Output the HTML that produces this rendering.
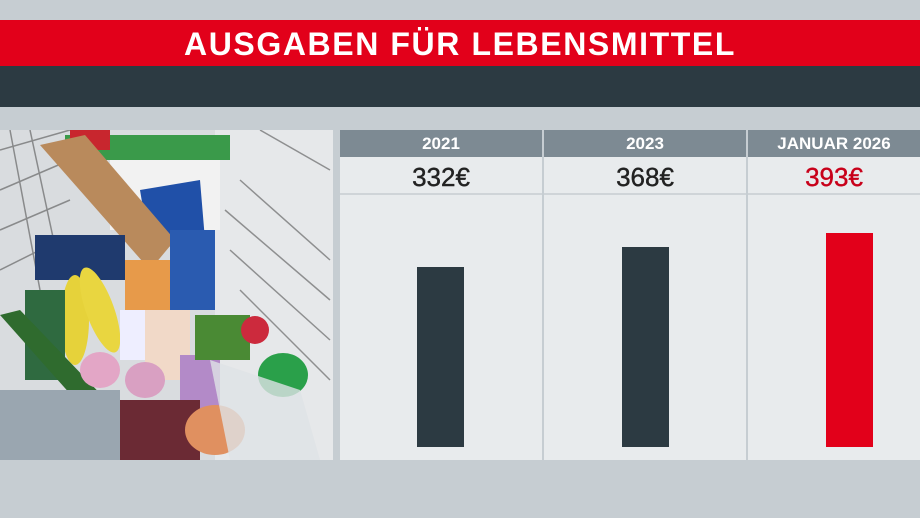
<!DOCTYPE html>
<html><head><meta charset="utf-8"><style>
*{margin:0;padding:0;box-sizing:border-box}
body{width:920px;height:518px;background:#c6cdd2;position:relative;overflow:hidden;font-family:"Liberation Sans",sans-serif}
.a{position:absolute}
.red{left:0;top:20px;width:920px;height:46px;background:#e2001a;color:#fff;font-weight:bold;font-size:32px;text-align:center;line-height:48px;letter-spacing:1.6px}
.dark{left:0;top:66px;width:920px;height:41px;background:#2c3a42}
.col{top:130px;height:330px;background:#e8ebed}
.hd{position:absolute;left:0;top:0;width:100%;height:27px;background:#7d8a93;color:#fff;font-weight:bold;font-size:17px;text-align:center;line-height:28px}
.val{position:absolute;left:0;top:28px;width:100%;height:37px;text-align:center;font-size:26px;line-height:38px;color:#222;border-bottom:2px solid #cfd4d8;-webkit-text-stroke:0.4px #222}
.bar{position:absolute;width:47px;background:#2c3a42}
</style></head><body>
<div class="a red">AUSGABEN FÜR LEBENSMITTEL</div>
<div class="a dark"></div>
<svg class="a" style="left:0;top:130px" width="333" height="330" viewBox="0 0 333 330">
<rect width="333" height="330" fill="#d9dcdf"/>
<rect x="215" y="0" width="118" height="330" fill="#e6e8ea"/>
<g stroke="#555" stroke-width="1.5" opacity="0.6">
<line x1="0" y1="20" x2="70" y2="0"/><line x1="0" y1="60" x2="70" y2="30"/><line x1="0" y1="100" x2="70" y2="70"/><line x1="0" y1="140" x2="60" y2="110"/>
<line x1="10" y1="0" x2="40" y2="160"/><line x1="30" y1="0" x2="60" y2="140"/>
<line x1="225" y1="80" x2="330" y2="170"/><line x1="230" y1="120" x2="330" y2="210"/><line x1="240" y1="160" x2="330" y2="250"/><line x1="240" y1="50" x2="330" y2="130"/>
<line x1="260" y1="0" x2="330" y2="40"/>
</g>
<rect x="65" y="5" width="165" height="25" fill="#3a9a4a"/>
<rect x="70" y="0" width="40" height="20" fill="#c8262e"/>
<rect x="110" y="30" width="110" height="70" fill="#f2f2f2"/>
<polygon points="140,60 200,50 205,110 150,120" fill="#2050a8"/>
<polygon points="40,15 85,5 175,110 150,140" fill="#b98a5c"/>
<rect x="35" y="105" width="90" height="45" fill="#1f3a6e"/>
<rect x="170" y="100" width="45" height="80" fill="#2a5bb0"/>
<rect x="125" y="130" width="45" height="50" fill="#e79a4a"/>
<ellipse cx="75" cy="190" rx="14" ry="45" fill="#e6d23a"/>
<ellipse cx="100" cy="180" rx="14" ry="45" fill="#e9d640" transform="rotate(-20 100 180)"/>
<rect x="25" y="160" width="40" height="90" fill="#2f6a40"/>
<polygon points="0,185 20,180 135,300 120,320" fill="#2f6b2e"/>
<rect x="145" y="180" width="45" height="70" fill="#f1d9c8"/>
<rect x="120" y="180" width="25" height="50" fill="#eef"/>
<rect x="180" y="225" width="40" height="55" fill="#b38ac8"/>
<ellipse cx="100" cy="240" rx="20" ry="18" fill="#e3a6c6"/>
<ellipse cx="145" cy="250" rx="20" ry="18" fill="#d9a0c2"/>
<rect x="195" y="185" width="55" height="45" fill="#4a8a34"/>
<circle cx="255" cy="200" r="14" fill="#cc2a3d"/>
<ellipse cx="283" cy="245" rx="25" ry="22" fill="#2aa04a"/>
<rect x="0" y="260" width="120" height="70" fill="#9aa6b0"/>
<rect x="120" y="270" width="80" height="60" fill="#6b2a34"/>
<ellipse cx="215" cy="300" rx="30" ry="25" fill="#e09060"/>
<polygon points="210,230 300,260 320,330 230,330" fill="#dfe2e6" opacity="0.8"/>
</svg>
<div class="a col" style="left:340px;width:202px"><div class="hd">2021</div><div class="val">332€</div><div class="bar" style="left:77px;top:137px;height:180px"></div></div>
<div class="a col" style="left:544px;width:202px"><div class="hd">2023</div><div class="val">368€</div><div class="bar" style="left:78px;top:117px;height:200px"></div></div>
<div class="a col" style="left:748px;width:172px"><div class="hd">JANUAR 2026</div><div class="val" style="color:#c8001a;-webkit-text-stroke:0.4px #c8001a">393€</div><div class="bar" style="left:78px;top:103px;height:214px;background:#e2001a"></div></div>
</body></html>
